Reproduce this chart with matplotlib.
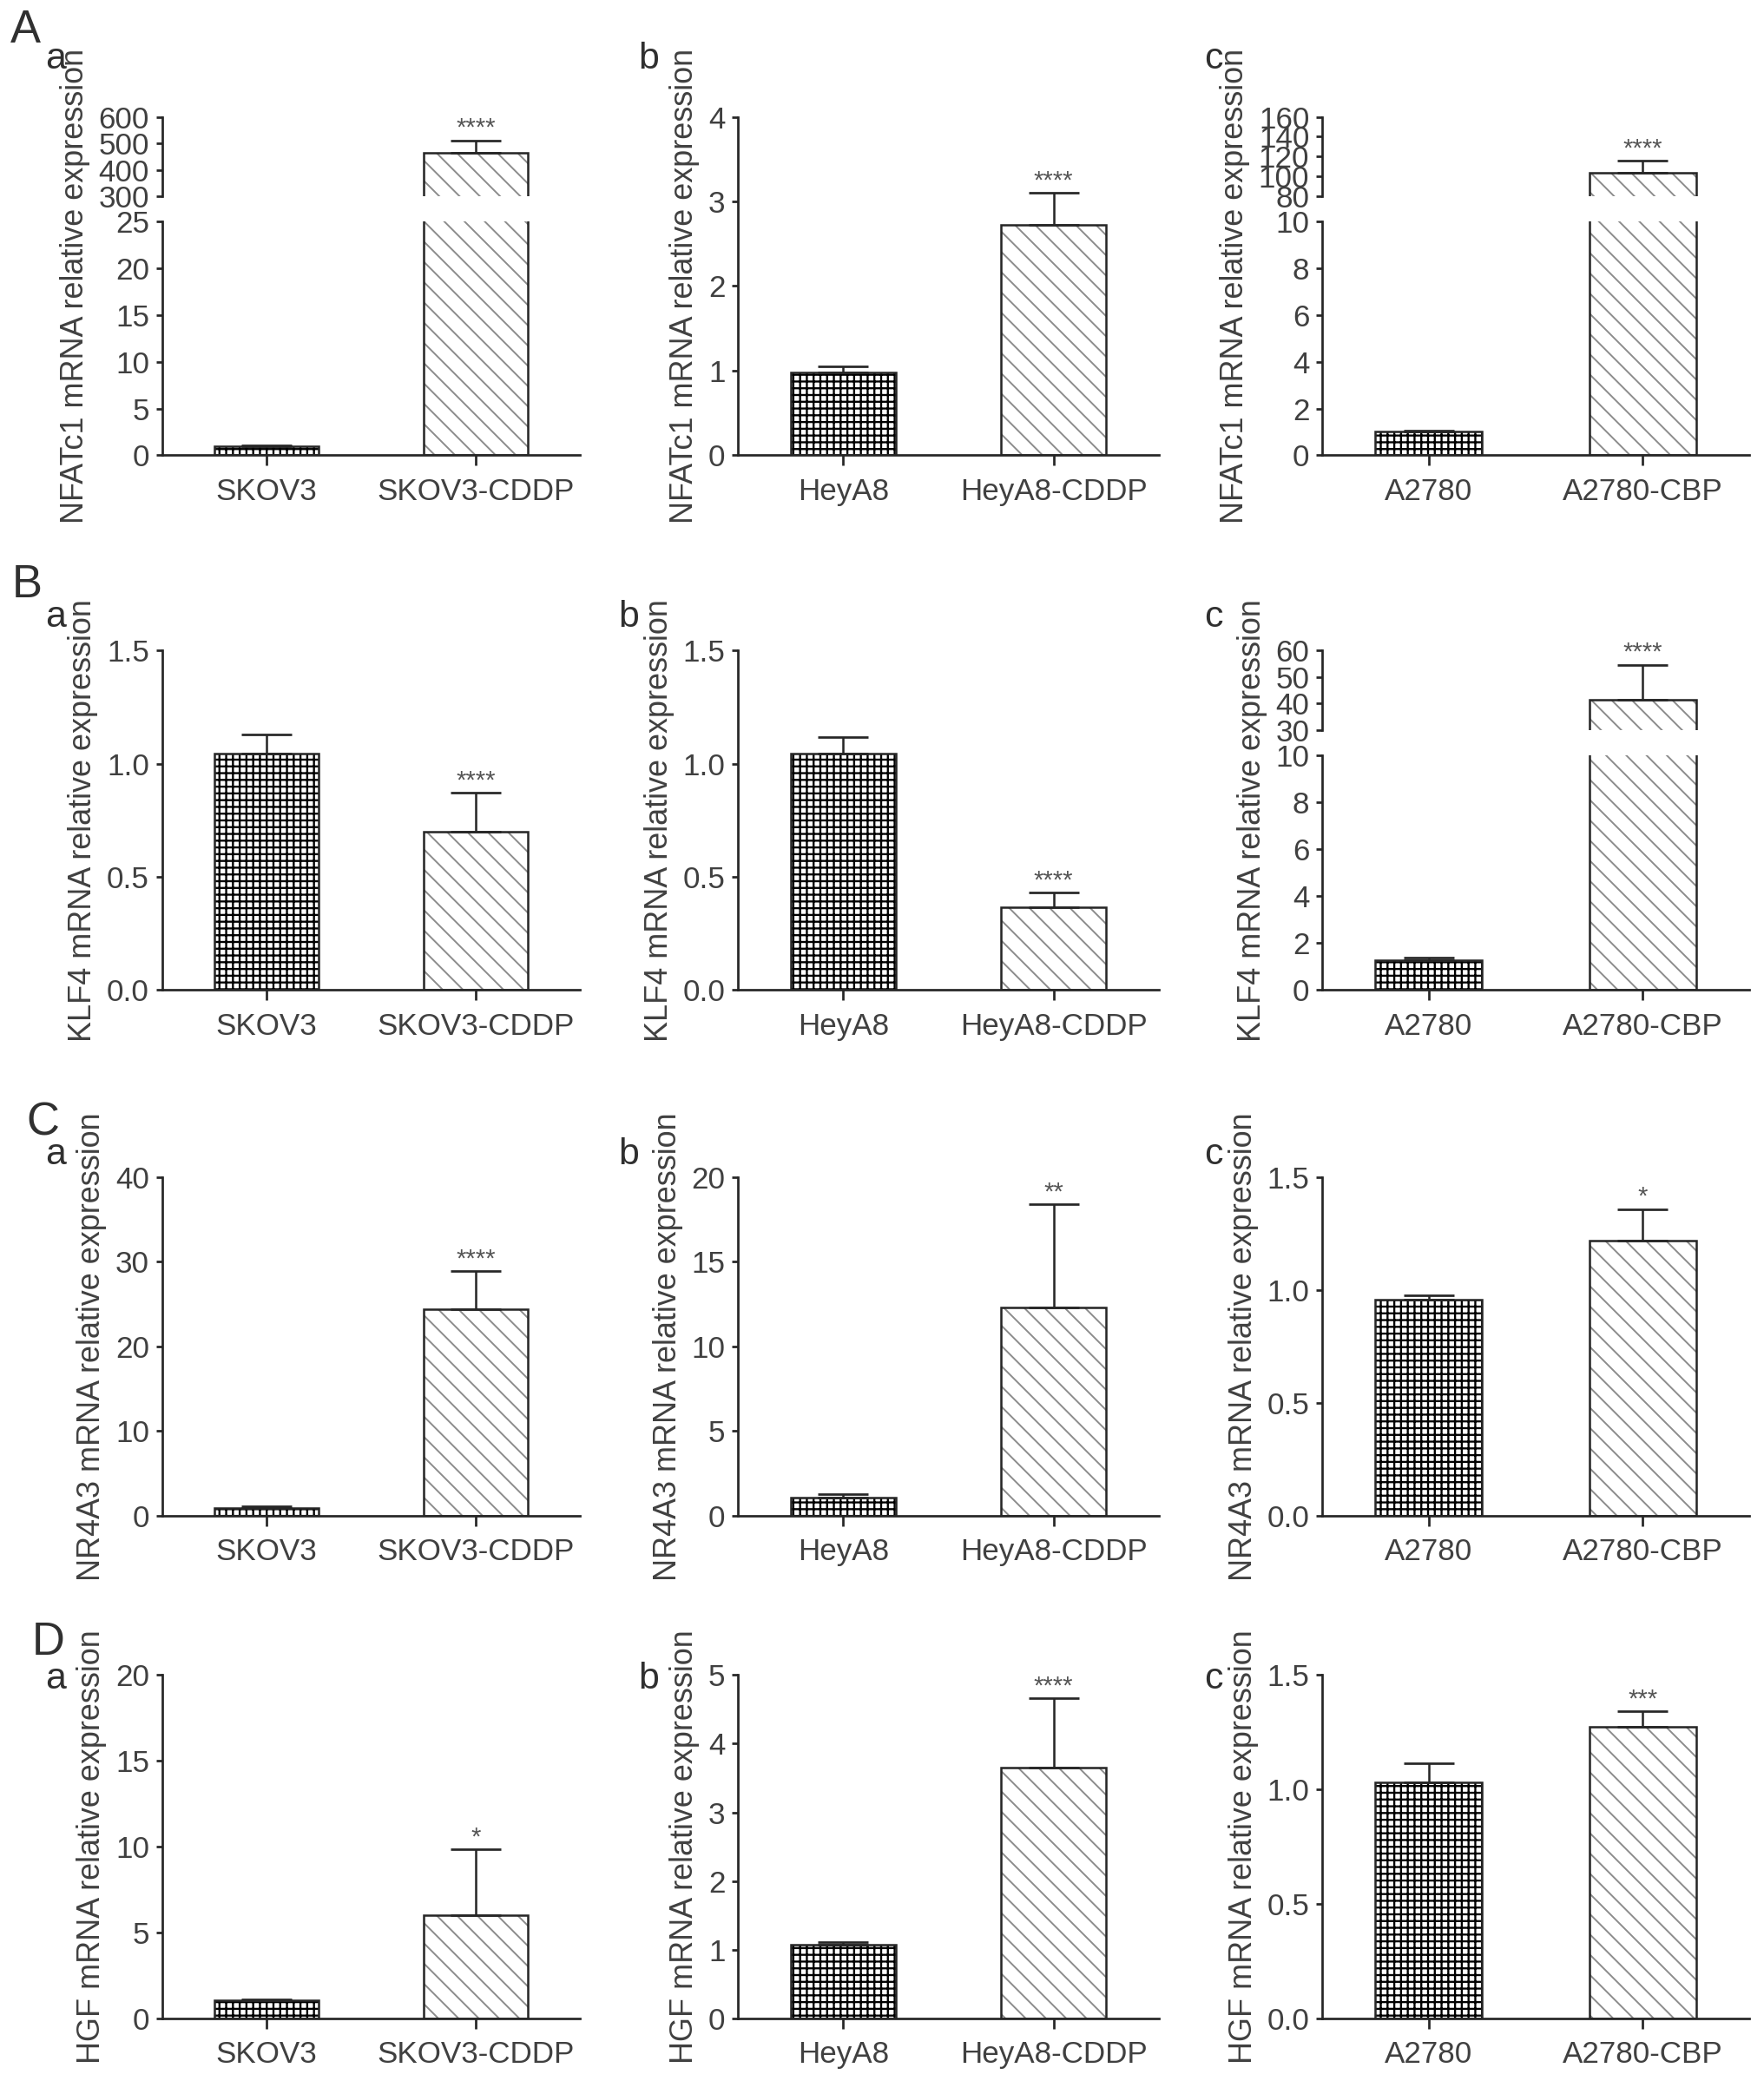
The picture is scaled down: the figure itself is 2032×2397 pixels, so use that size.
import matplotlib
matplotlib.use('Agg')
import matplotlib.pyplot as plt
import numpy as np

plt.rcParams['font.family'] = ['Liberation Sans', 'DejaVu Sans']

# ---- data ----
genes = ['NFATc1', 'KLF4', 'NR4A3', 'HGF']
cell_pairs = [['SKOV3', 'SKOV3-CDDP'],
              ['HeyA8', 'HeyA8-CDDP'],
              ['A2780', 'A2780-CBP']]

nfatc1_mean = [[0.92, 465.0], [0.98, 2.72], [1.00, 104.0]]
nfatc1_err = [[0.17, 46.0], [0.07, 0.38], [0.06, 12.0]]
klf4_mean = [[1.045, 0.70], [1.045, 0.365], [1.26, 41.4]]
klf4_err = [[0.083, 0.17], [0.072, 0.066], [0.12, 13.2]]
nr4a3_mean = [[0.95, 24.4], [1.09, 12.3], [0.956, 1.22]]
nr4a3_err = [[0.12, 4.5], [0.18, 6.1], [0.021, 0.138]]
hgf_mean = [[1.05, 6.0], [1.08, 3.65], [1.032, 1.275]]
hgf_err = [[0.05, 3.85], [0.03, 1.01], [0.083, 0.065]]

means = [nfatc1_mean, klf4_mean, nr4a3_mean, hgf_mean]
errs = [nfatc1_err, klf4_err, nr4a3_err, hgf_err]

stars = [['****', '****', '****'],
         ['****', '****', '****'],
         ['****', '**', '*'],
         ['*', '****', '***']]

# y ticks: (lower segment ticks, upper segment ticks or None)
yticks = [
    [([0, 5, 10, 15, 20, 25], [300, 400, 500, 600]), ([0, 1, 2, 3, 4], None),
     ([0, 2, 4, 6, 8, 10], [80, 100, 120, 140, 160])],
    [([0, 0.5, 1.0, 1.5], None), ([0, 0.5, 1.0, 1.5], None),
     ([0, 2, 4, 6, 8, 10], [30, 40, 50, 60])],
    [([0, 10, 20, 30, 40], None), ([0, 5, 10, 15, 20], None),
     ([0, 0.5, 1.0, 1.5], None)],
    [([0, 5, 10, 15, 20], None), ([0, 1, 2, 3, 4, 5], None),
     ([0, 0.5, 1.0, 1.5], None)],
]

row_letters = ['A', 'B', 'C', 'D']
col_letters = ['a', 'b', 'c']

# ---- layout (in reference pixels of a 1329x1568 view) ----
REF_W, REF_H = 1329.0, 1568.0
W, H, DPI = 2032, 2397, 140
col_left = [122, 556, 996]
col_right = [437, 873, 1318]
row_top = [88, 490, 887, 1262]
row_bottom = [343, 746, 1142, 1521]
big_xy = [(8, 32), (9, 450), (20, 855), (24, 1247)]
small_base = [52, 472, 877, 1272]
small_x = [[34, 481, 907], [34, 466, 907], [34, 466, 907], [34, 481, 907]]

TXT = '#404040'
LINE = '#262626'
FS_TICK = 18
FS_LAB = 18.5
LO_FRAC, GAP_FRAC = 0.69, 0.075

fig = plt.figure(figsize=(W / DPI, H / DPI), dpi=DPI)


def add_ax(c, top_px, bottom_px):
    l = col_left[c] / REF_W
    w = (col_right[c] - col_left[c]) / REF_W
    b = 1 - bottom_px / REF_H
    h = (bottom_px - top_px) / REF_H
    return fig.add_axes([l, b, w, h])


def style(ax, ticks, bottom=True):
    for s in ['top', 'right']:
        ax.spines[s].set_visible(False)
    ax.spines['left'].set_linewidth(1.4)
    ax.spines['left'].set_color(LINE)
    ax.set_yticks(ticks)
    fmt = '%.1f' if any(t != int(t) for t in ticks) else '%d'
    ax.set_yticklabels([fmt % t for t in ticks])
    ax.set_ylim(ticks[0], ticks[-1])
    ax.set_xlim(-0.5, 1.5)
    ax.tick_params(axis='y', direction='out', length=3.5, width=1.4,
                   color=LINE, labelsize=FS_TICK, labelcolor=TXT, pad=4)
    if bottom:
        ax.spines['bottom'].set_linewidth(1.4)
        ax.spines['bottom'].set_color(LINE)
        ax.tick_params(axis='x', direction='out', length=6, width=1.4,
                       color=LINE, labelsize=FS_TICK, labelcolor=TXT, pad=7)
    else:
        ax.spines['bottom'].set_visible(False)
        ax.tick_params(axis='x', bottom=False, labelbottom=False)


def draw_bars(ax, m, e):
    x = np.arange(2)
    looks = [('+++', 'black', 1.2), ('\\\\', '#8c8c8c', 1.0)]
    for i in range(2):
        hatch, hcol, hlw = looks[i]
        with plt.rc_context({'hatch.linewidth': hlw}):
            p = ax.bar(x[i], m[i], width=0.5, color='white', edgecolor=hcol,
                       hatch=hatch, linewidth=0, zorder=2)
        for patch in p:
            if hasattr(patch, 'set_hatch_linewidth'):
                patch.set_hatch_linewidth(hlw)
        ax.bar(x[i], m[i], width=0.5, fill=False, edgecolor=LINE,
               linewidth=1.3, zorder=3)
    ax.errorbar(x, m, yerr=[np.zeros(2), e], fmt='none', ecolor=LINE,
                elinewidth=1.3, capsize=15, capthick=1.4, zorder=4)


for r in range(4):
    for c in range(3):
        m = means[r][c]
        e = errs[r][c]
        lo, hi = yticks[r][c]
        top, bot = row_top[r], row_bottom[r]
        label = genes[r] + ' mRNA relative expression'
        if hi is None:
            ax = add_ax(c, top, bot)
            style(ax, lo)
            draw_bars(ax, m, e)
            star_ax = ax
            low_ax = ax
            ax.set_ylabel(label, fontsize=FS_LAB, color=TXT, labelpad=5)
        else:
            span = bot - top
            lo_h = span * LO_FRAC
            gap = span * GAP_FRAC
            low_ax = add_ax(c, bot - lo_h, bot)
            up_ax = add_ax(c, top, bot - lo_h - gap)
            style(low_ax, lo)
            style(up_ax, hi, bottom=False)
            draw_bars(low_ax, m, e)
            draw_bars(up_ax, m, e)
            star_ax = up_ax
            up_frac = 1 - LO_FRAC - GAP_FRAC
            up_ax.set_ylabel(label, fontsize=FS_LAB, color=TXT, labelpad=5)
            up_ax.yaxis.label.set_y(1 - 0.5 / up_frac)
        low_ax.set_xticks([0, 1])
        low_ax.set_xticklabels(cell_pairs[c])
        star_ax.annotate(stars[r][c], (1, m[1] + e[1]), xytext=(0, 3),
                         textcoords='offset points', ha='center',
                         va='baseline', fontsize=15, color='#555555')
        fig.text(small_x[r][c] / REF_W, 1 - small_base[r] / REF_H,
                 col_letters[c], ha='left', va='baseline', fontsize=22,
                 color='#303030')
    fig.text(big_xy[r][0] / REF_W, 1 - big_xy[r][1] / REF_H, row_letters[r],
             ha='left', va='baseline', fontsize=27, color='#303030')

fig.savefig('out.png', dpi=DPI, facecolor='white')
